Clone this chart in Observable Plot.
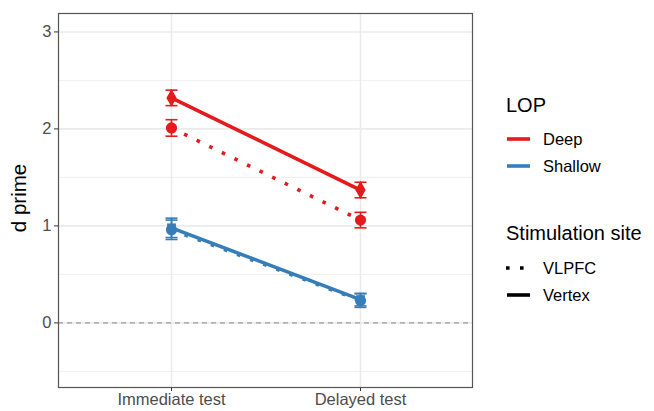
<!DOCTYPE html>
<html>
<head>
<meta charset="utf-8">
<script src="https://cdn.jsdelivr.net/npm/d3@7"></script>
<script src="https://cdn.jsdelivr.net/npm/@observablehq/plot@0.6"></script>
<style>
  html, body { margin: 0; padding: 0; background: #fff; }
  #wrap { position: relative; width: 654px; height: 411px; font-family: "Liberation Sans", Arial, sans-serif; }
  #legend { position: absolute; left: 0; top: 0; }
</style>
</head>
<body>
<div id="wrap"></div>
<script>
// ---- data ----
const tests = ["Immediate test", "Delayed test"];
const lops = ["Deep", "Shallow"];
const sites = ["VLPFC", "Vertex"];
const lopColors = ["#E41A1C", "#377EB8"];
// d prime means, per test
const deepVLPFC = [2.01, 1.06];
const deepVertex = [2.32, 1.37];
const shallowVLPFC = [0.96, 0.23];
const shallowVertex = [0.98, 0.24];
// standard errors
const seDeepVLPFC = [0.085, 0.08];
const seDeepVertex = [0.08, 0.08];
const seShallowVLPFC = [0.1, 0.07];
const seShallowVertex = [0.1, 0.065];
const yTicks = [0, 1, 2, 3];
const yMinor = [-0.5, 0.5, 1.5, 2.5];

const series = [
  {lop: "Deep", site: "VLPFC", mean: deepVLPFC, se: seDeepVLPFC, symbol: "circle"},
  {lop: "Deep", site: "Vertex", mean: deepVertex, se: seDeepVertex, symbol: "diamond"},
  {lop: "Shallow", site: "VLPFC", mean: shallowVLPFC, se: seShallowVLPFC, symbol: "circle"},
  {lop: "Shallow", site: "Vertex", mean: shallowVertex, se: seShallowVertex, symbol: "square"}
];
const rows = series.flatMap(s => tests.map((t, i) => ({
  test: t, lop: s.lop, site: s.site, group: s.lop + "-" + s.site,
  d: s.mean[i], lo: s.mean[i] - s.se[i], hi: s.mean[i] + s.se[i], symbol: s.symbol
})));

const cap = {draw(ctx, size) { const w = Math.sqrt(size / Math.PI); ctx.moveTo(-w, 0); ctx.lineTo(w, 0); }};
const colorScale = {domain: lops, range: lopColors};

const plot = Plot.plot({
  width: 654, height: 411,
  marginLeft: 58, marginRight: 182, marginTop: 13, marginBottom: 24,
  style: {fontFamily: "Liberation Sans, Arial, sans-serif", background: "white"},
  x: {type: "point", domain: tests, padding: 0.59, label: null, tickSize: 4},
  y: {domain: [-0.666, 3.19], ticks: yTicks, tickFormat: d3.format("d"), label: null, tickSize: 4},
  color: colorScale,
  marks: [
    Plot.ruleY(yMinor, {stroke: "#ebebeb", strokeWidth: 0.8}),
    Plot.ruleY(yTicks, {stroke: "#ebebeb", strokeWidth: 1.6}),
    Plot.ruleX(tests, {stroke: "#ebebeb", strokeWidth: 1.6}),
    Plot.ruleY([0], {stroke: "#9a9a9a", strokeWidth: 1.2, strokeDasharray: "5,4"}),
    Plot.line(rows.filter(r => r.site === "Vertex"), {x: "test", y: "d", z: "group", stroke: "lop", strokeWidth: 3.6}),
    Plot.line(rows.filter(r => r.site === "VLPFC"), {x: "test", y: "d", z: "group", stroke: "lop", strokeWidth: 3.6, strokeDasharray: "3.6,10.4", strokeLinecap: "butt"}),
    Plot.ruleX(rows, {x: "test", y1: "lo", y2: "hi", stroke: "lop", strokeWidth: 1.6}),
    Plot.dot(rows, {x: "test", y: "lo", stroke: "lop", symbol: cap, r: 6, strokeWidth: 1.6}),
    Plot.dot(rows, {x: "test", y: "hi", stroke: "lop", symbol: cap, r: 6, strokeWidth: 1.6}),
    Plot.dot(rows.filter(r => r.symbol === "circle"), {x: "test", y: "d", fill: "lop", symbol: "circle", r: 5.6}),
    Plot.dot(rows.filter(r => r.symbol === "diamond"), {x: "test", y: "d", fill: "lop", symbol: "diamond", r: 5.4}),
    Plot.dot(rows.filter(r => r.symbol === "square"), {x: "test", y: "d", fill: "lop", symbol: "square", r: 5}),
    Plot.axisY({ticks: yTicks, tickFormat: d3.format("d"), tickSize: 4, fontSize: 16.5, color: "#4d4d4d", stroke: "#333", tickPadding: 3, label: null}),
    Plot.axisX({tickSize: 4, fontSize: 16.5, color: "#4d4d4d", stroke: "#333", tickPadding: 2, label: null}),
    Plot.frame({stroke: "#555", strokeWidth: 1.2})
  ]
});

const wrap = document.getElementById("wrap");
wrap.appendChild(plot);

// y axis title + legend overlay
const svg = d3.select(wrap).append("svg").attr("id", "legend").attr("width", 654).attr("height", 411)
  .style("font-family", "Liberation Sans, Arial, sans-serif");
svg.append("text").attr("transform", "translate(26,198) rotate(-90)").attr("text-anchor", "middle")
  .attr("font-size", 20.5).attr("fill", "#000").text("d prime");

svg.append("text").attr("x", 506).attr("y", 112).attr("font-size", 20).text("LOP");
lops.forEach((l, i) => {
  const y = 139 + i * 27;
  svg.append("line").attr("x1", 507).attr("x2", 530).attr("y1", y).attr("y2", y)
    .attr("stroke", lopColors[i]).attr("stroke-width", 3.6);
  svg.append("text").attr("x", 543).attr("y", y + 6).attr("font-size", 16.5).attr("fill", "#000").text(l);
});
svg.append("text").attr("x", 506).attr("y", 240).attr("font-size", 20).text("Stimulation site");
sites.forEach((s, i) => {
  const y = 268 + i * 27;
  svg.append("line").attr("x1", 507).attr("x2", 530).attr("y1", y).attr("y2", y)
    .attr("stroke", "#000").attr("stroke-width", 3.6)
    .attr("stroke-dasharray", s === "VLPFC" ? "3.6,10.4" : null)
    .attr("transform", s === "VLPFC" ? "translate(-1,0)" : null);
  svg.append("text").attr("x", 543).attr("y", y + 6).attr("font-size", 16.5).attr("fill", "#000").text(s);
});
</script>
</body>
</html>
